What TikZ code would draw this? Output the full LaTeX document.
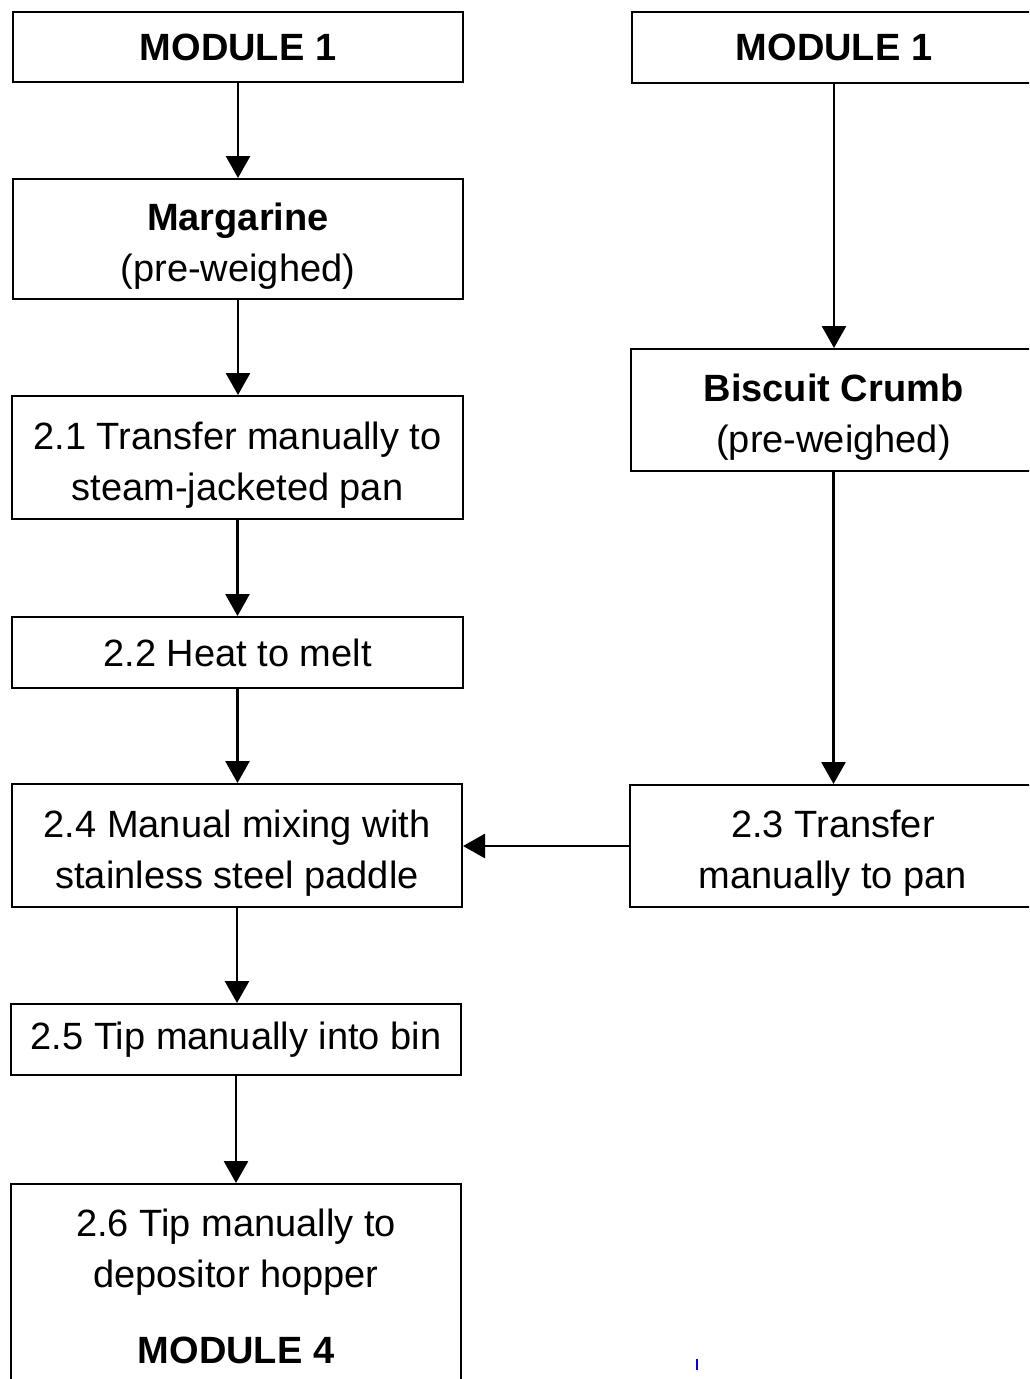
\documentclass[tikz,border=0pt]{standalone}
\usepackage{fontspec}
\setmainfont{Liberation Sans}
\usetikzlibrary{arrows.meta}
% strut that sets the first line of a two-line box a little lower
\newcommand{\toplift}{\rule{0pt}{42pt}}
\begin{document}
\begin{tikzpicture}[x=1pt,y=-1pt,
  box/.style={draw, line width=2pt, rectangle, align=center, inner sep=0pt,
    font=\fontsize{38}{51}\selectfont},
  flow/.style={line width=2.8pt, -{Triangle[length=22pt,width=24pt]}}]
\useasboundingbox (0,0) rectangle (1029,1379);
\clip (0,0) rectangle (1029,1379);

% left column: margarine line
\node[box, minimum width=450pt, minimum height=70pt] (m1l) at (238,47) {\textbf{MODULE 1}};
\node[box, minimum width=450pt, minimum height=120pt] (marg) at (238,239) {\toplift\textbf{Margarine}\\(pre-weighed)};
\node[box, minimum width=451pt, minimum height=123pt] (s21) at (237.5,457.5) {\toplift 2.1 Transfer manually to\\steam-jacketed pan};
\node[box, minimum width=451pt, minimum height=71pt] (s22) at (237.5,652.5) {2.2 Heat to melt};
\node[box, minimum width=450pt, minimum height=123pt] (s24) at (237,845.5) {\toplift 2.4 Manual mixing with\\stainless steel paddle};
\node[box, minimum width=450pt, minimum height=71pt] (s25) at (236,1039.5) {2.5 Tip manually into bin};
\node[box, minimum width=450pt, minimum height=205pt, anchor=north] (s26) at (236,1183)
  {2.6 Tip manually to\\depositor hopper\\[25pt]\textbf{MODULE 4}};

% right column: biscuit crumb line
\node[box, minimum width=404pt, minimum height=71pt] (m1r) at (834,47.5) {\textbf{MODULE 1}};
\node[box, minimum width=405pt, minimum height=122pt] (bisc) at (833.5,410) {\toplift\textbf{Biscuit Crumb}\\(pre-weighed)};
\node[box, minimum width=406pt, minimum height=122pt] (s23) at (833,846) {\toplift 2.3 Transfer\\manually to pan};

% connectors
\draw[flow] (m1l.south) -- (m1l.south |- marg.north);
\draw[flow] (marg.south) -- (marg.south |- s21.north);
\draw[flow] (s21.south) -- (s21.south |- s22.north);
\draw[flow] (s22.south) -- (s22.south |- s24.north);
\draw[flow] (s24.south) -- (s24.south |- s25.north);
\draw[flow] (s25.south) -- (s25.south |- s26.north);
\draw[flow] (m1r.south) -- (m1r.south |- bisc.north);
\draw[flow] (bisc.south) -- (bisc.south |- s23.north);
\draw[flow] (s23.west) -- (s23.west -| s24.east);

% small blue tick near the lower edge
\draw[blue, line width=2pt] (697,1359) -- (697,1370);
\end{tikzpicture}
\end{document}
